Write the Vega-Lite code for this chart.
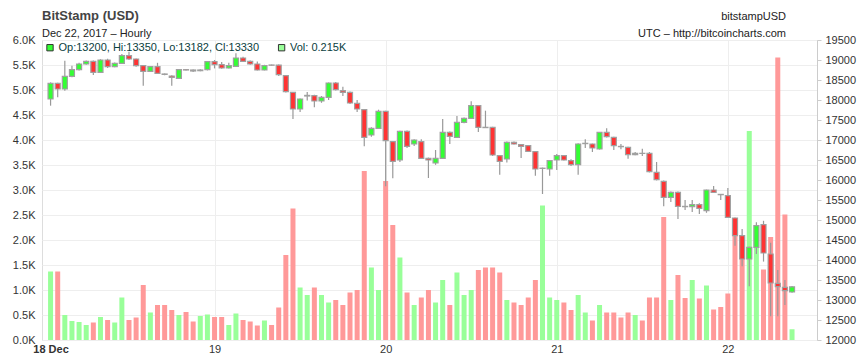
{
  "$schema": "https://vega.github.io/schema/vega-lite/v6.json",
  "autosize": "none",
  "width": 775,
  "height": 300,
  "padding": {"left": 42, "top": 40, "right": 43, "bottom": 19},
  "background": "white",
  "config": {
    "font": "Liberation Sans",
    "view": {"stroke": "#dddddd"},
    "axis": {"labelFont": "Liberation Sans", "labelFontSize": 11, "labelColor": "#333333", "gridColor": "#eeeeee"}
  },
  "datasets": {
    "candles": [
      {"h":1,"o":18025,"hi":18440,"lo":17858,"c":18417,"v":1.37},
      {"h":2,"o":18417,"hi":18430,"lo":18067,"c":18275,"v":1.37},
      {"h":3,"o":18275,"hi":18983,"lo":18233,"c":18592,"v":0.50},
      {"h":4,"o":18592,"hi":18858,"lo":18570,"c":18758,"v":0.38},
      {"h":5,"o":18758,"hi":18930,"lo":18740,"c":18900,"v":0.36},
      {"h":6,"o":18900,"hi":18990,"lo":18880,"c":18967,"v":0.30},
      {"h":7,"o":18967,"hi":18985,"lo":18625,"c":18692,"v":0.35},
      {"h":8,"o":18692,"hi":19020,"lo":18680,"c":19000,"v":0.46},
      {"h":9,"o":19000,"hi":19030,"lo":18800,"c":18833,"v":0.40},
      {"h":10,"o":18833,"hi":18940,"lo":18820,"c":18917,"v":0.35},
      {"h":11,"o":18917,"hi":19150,"lo":18900,"c":19108,"v":0.85},
      {"h":12,"o":19108,"hi":19208,"lo":19000,"c":19025,"v":0.40},
      {"h":13,"o":19025,"hi":19040,"lo":18830,"c":18858,"v":0.45},
      {"h":14,"o":18858,"hi":18870,"lo":18358,"c":18717,"v":1.10},
      {"h":15,"o":18717,"hi":18850,"lo":18700,"c":18833,"v":0.55},
      {"h":16,"o":18833,"hi":18930,"lo":18650,"c":18667,"v":0.70},
      {"h":17,"o":18650,"hi":18660,"lo":18620,"c":18640,"v":0.70},
      {"h":18,"o":18600,"hi":18620,"lo":18358,"c":18567,"v":0.60},
      {"h":19,"o":18542,"hi":18770,"lo":18530,"c":18758,"v":0.50},
      {"h":20,"o":18758,"hi":18775,"lo":18740,"c":18750,"v":0.56},
      {"h":21,"o":18750,"hi":18760,"lo":18700,"c":18725,"v":0.37},
      {"h":22,"o":18733,"hi":18770,"lo":18720,"c":18750,"v":0.48},
      {"h":23,"o":18758,"hi":18970,"lo":18740,"c":18958,"v":0.51},
      {"h":24,"o":18958,"hi":19000,"lo":18790,"c":18883,"v":0.46},
      {"h":25,"o":18883,"hi":18950,"lo":18780,"c":18800,"v":0.46},
      {"h":26,"o":18800,"hi":18930,"lo":18790,"c":18858,"v":0.30},
      {"h":27,"o":18842,"hi":19167,"lo":18830,"c":19050,"v":0.53},
      {"h":28,"o":19050,"hi":19080,"lo":18950,"c":18967,"v":0.40},
      {"h":29,"o":18967,"hi":18990,"lo":18880,"c":18900,"v":0.37},
      {"h":30,"o":18900,"hi":18960,"lo":18740,"c":18750,"v":0.29},
      {"h":31,"o":18750,"hi":18880,"lo":18740,"c":18858,"v":0.39},
      {"h":32,"o":18875,"hi":18885,"lo":18860,"c":18870,"v":0.30},
      {"h":33,"o":18870,"hi":18890,"lo":18600,"c":18633,"v":0.65},
      {"h":34,"o":18608,"hi":18620,"lo":18190,"c":18208,"v":1.70},
      {"h":35,"o":18192,"hi":18200,"lo":17525,"c":17775,"v":2.63},
      {"h":36,"o":17775,"hi":18040,"lo":17700,"c":18025,"v":1.05},
      {"h":37,"o":18100,"hi":18200,"lo":17990,"c":18115,"v":0.90},
      {"h":38,"o":18108,"hi":18130,"lo":17817,"c":17975,"v":1.05},
      {"h":39,"o":17975,"hi":18100,"lo":17930,"c":18067,"v":0.90},
      {"h":40,"o":18067,"hi":18440,"lo":18000,"c":18425,"v":0.75},
      {"h":41,"o":18425,"hi":18450,"lo":18240,"c":18258,"v":0.80},
      {"h":42,"o":18233,"hi":18330,"lo":18100,"c":18192,"v":0.70},
      {"h":43,"o":18192,"hi":18210,"lo":17900,"c":17925,"v":0.95},
      {"h":44,"o":17917,"hi":18000,"lo":17700,"c":17775,"v":1.00},
      {"h":45,"o":17758,"hi":17770,"lo":16842,"c":17067,"v":3.38},
      {"h":46,"o":17125,"hi":17320,"lo":17080,"c":17292,"v":1.45},
      {"h":47,"o":17292,"hi":17758,"lo":17280,"c":17717,"v":1.00},
      {"h":48,"o":17717,"hi":17730,"lo":15842,"c":16983,"v":3.18},
      {"h":49,"o":16958,"hi":16970,"lo":16042,"c":16467,"v":2.30},
      {"h":50,"o":16500,"hi":17230,"lo":16450,"c":17217,"v":1.65},
      {"h":51,"o":17217,"hi":17240,"lo":16800,"c":16842,"v":0.95},
      {"h":52,"o":16900,"hi":17020,"lo":16850,"c":17000,"v":0.70},
      {"h":53,"o":16958,"hi":17020,"lo":16530,"c":16542,"v":0.85},
      {"h":54,"o":16542,"hi":16560,"lo":16050,"c":16500,"v":1.00},
      {"h":55,"o":16425,"hi":16750,"lo":16380,"c":16542,"v":0.75},
      {"h":56,"o":16542,"hi":17525,"lo":16530,"c":17192,"v":1.20},
      {"h":57,"o":17192,"hi":17210,"lo":16900,"c":17092,"v":0.70},
      {"h":58,"o":17067,"hi":17600,"lo":17050,"c":17442,"v":1.35},
      {"h":59,"o":17442,"hi":17560,"lo":17420,"c":17542,"v":0.90},
      {"h":60,"o":17542,"hi":17967,"lo":17530,"c":17858,"v":1.00},
      {"h":61,"o":17858,"hi":17870,"lo":17200,"c":17317,"v":1.40},
      {"h":62,"o":17317,"hi":17733,"lo":17300,"c":17310,"v":1.45},
      {"h":63,"o":17317,"hi":17330,"lo":16600,"c":16625,"v":1.45},
      {"h":64,"o":16608,"hi":16625,"lo":16133,"c":16467,"v":1.35},
      {"h":65,"o":16525,"hi":16960,"lo":16440,"c":16942,"v":0.80},
      {"h":66,"o":16942,"hi":16960,"lo":16890,"c":16900,"v":0.75},
      {"h":67,"o":16883,"hi":16900,"lo":16550,"c":16842,"v":0.70},
      {"h":68,"o":16858,"hi":16870,"lo":16700,"c":16717,"v":0.85},
      {"h":69,"o":16708,"hi":16720,"lo":16108,"c":16275,"v":1.20},
      {"h":70,"o":16290,"hi":16310,"lo":15650,"c":16295,"v":2.69},
      {"h":71,"o":16275,"hi":16500,"lo":16108,"c":16483,"v":0.85},
      {"h":72,"o":16500,"hi":16650,"lo":16250,"c":16608,"v":0.80},
      {"h":73,"o":16608,"hi":16620,"lo":16490,"c":16500,"v":0.75},
      {"h":74,"o":16483,"hi":16520,"lo":16350,"c":16383,"v":0.60},
      {"h":75,"o":16383,"hi":16920,"lo":16133,"c":16900,"v":0.90},
      {"h":76,"o":16910,"hi":17020,"lo":16800,"c":16917,"v":0.55},
      {"h":77,"o":16900,"hi":16910,"lo":16700,"c":16800,"v":0.39},
      {"h":78,"o":16775,"hi":17200,"lo":16760,"c":17192,"v":0.70},
      {"h":79,"o":17192,"hi":17292,"lo":17060,"c":17083,"v":0.55},
      {"h":80,"o":17067,"hi":17080,"lo":16750,"c":16858,"v":0.55},
      {"h":81,"o":16840,"hi":16900,"lo":16770,"c":16833,"v":0.45},
      {"h":82,"o":16817,"hi":16830,"lo":16530,"c":16633,"v":0.55},
      {"h":83,"o":16633,"hi":16700,"lo":16620,"c":16667,"v":0.50},
      {"h":84,"o":16667,"hi":16780,"lo":16600,"c":16665,"v":0.39},
      {"h":85,"o":16667,"hi":16700,"lo":16190,"c":16208,"v":0.85},
      {"h":86,"o":16192,"hi":16450,"lo":15990,"c":16008,"v":0.85},
      {"h":87,"o":15967,"hi":15990,"lo":15342,"c":15567,"v":2.46},
      {"h":88,"o":15567,"hi":15710,"lo":15450,"c":15692,"v":0.80},
      {"h":89,"o":15692,"hi":15710,"lo":15025,"c":15342,"v":1.30},
      {"h":90,"o":15340,"hi":15500,"lo":15250,"c":15333,"v":0.84},
      {"h":91,"o":15333,"hi":15500,"lo":15200,"c":15383,"v":1.20},
      {"h":92,"o":15383,"hi":15420,"lo":15150,"c":15292,"v":0.83},
      {"h":93,"o":15233,"hi":15760,"lo":15180,"c":15750,"v":1.09},
      {"h":94,"o":15750,"hi":15850,"lo":15680,"c":15692,"v":0.61},
      {"h":95,"o":15640,"hi":15650,"lo":15500,"c":15633,"v":0.66},
      {"h":96,"o":15608,"hi":15800,"lo":15050,"c":15067,"v":0.93},
      {"h":97,"o":15050,"hi":15060,"lo":14358,"c":14608,"v":2.15},
      {"h":98,"o":14608,"hi":14775,"lo":13842,"c":14025,"v":2.10},
      {"h":99,"o":14025,"hi":14330,"lo":13342,"c":14317,"v":4.18},
      {"h":100,"o":14317,"hi":14942,"lo":14150,"c":14858,"v":2.25},
      {"h":101,"o":14883,"hi":14980,"lo":13960,"c":14175,"v":1.41},
      {"h":102,"o":14150,"hi":14430,"lo":12592,"c":13425,"v":2.06},
      {"h":103,"o":13417,"hi":13750,"lo":12592,"c":13333,"v":5.65},
      {"h":104,"o":13317,"hi":13500,"lo":12875,"c":13233,"v":2.51},
      {"h":105,"o":13200,"hi":13350,"lo":13182,"c":13330,"v":0.215}
    ],
    "header": [
      {"label": "Op:13200, Hi:13350, Lo:13182, Cl:13330", "vol": "Vol: 0.215K", "t1": "BitStamp (USD)", "t2": "Dec 22, 2017 \u2013 Hourly", "r1": "bitstampUSD", "r2": "UTC \u2013 http://bitcoincharts.com"}
    ]
  },
  "layer": [
    {
      "data": {"name": "candles"},
      "mark": {"type": "bar", "width": 5},
      "encoding": {
        "x": {
          "field": "h", "type": "quantitative",
          "scale": {"domain": [0.5, 107.8], "nice": false, "zero": false},
          "axis": {
            "title": null, "orient": "bottom", "values": [1, 24, 48, 72, 96],
            "labelExpr": "datum.value == 1 ? '18 Dec' : datum.value == 24 ? '19' : datum.value == 48 ? '20' : datum.value == 72 ? '21' : '22'",
            "labelFontWeight": {"condition": {"test": "datum.value == 1", "value": "bold"}, "value": "normal"},
            "gridOpacity": {"condition": {"test": "datum.value == 1", "value": 0}, "value": 1},
            "ticks": false, "domain": false, "labelPadding": 3, "labelFlush": false
          }
        },
        "y": {
          "field": "v", "type": "quantitative",
          "scale": {"domain": [0, 6], "nice": false},
          "axis": {"title": null, "orient": "left", "values": [0,0.5,1,1.5,2,2.5,3,3.5,4,4.5,5,5.5,6], "labelExpr": "format(datum.value, '.1f') + 'K'", "ticks": false, "domain": false, "labelPadding": 7, "grid": true}
        },
        "color": {"condition": {"test": "datum.c >= datum.o", "value": "#99ff99"}, "value": "#ff9999"}
      }
    },
    {
      "data": {"name": "candles"},
      "layer": [
        {
          "mark": {"type": "rule", "color": "#999999", "strokeWidth": 1.2},
          "encoding": {
            "x": {"field": "h", "type": "quantitative"},
            "y": {
              "field": "lo", "type": "quantitative",
              "scale": {"domain": [12000, 19500], "nice": false, "zero": false},
              "axis": {"title": null, "orient": "right", "values": [12000,12500,13000,13500,14000,14500,15000,15500,16000,16500,17000,17500,18000,18500,19000,19500], "format": "d", "grid": false, "ticks": true, "tickSize": 4, "tickColor": "#cccccc", "domain": true, "domainColor": "#cccccc", "labelPadding": 4}
            },
            "y2": {"field": "hi"}
          }
        },
        {
          "mark": {"type": "bar", "width": 5, "stroke": "#a0a0a0", "strokeWidth": 1.2},
          "encoding": {
            "x": {"field": "h", "type": "quantitative"},
            "y": {
              "field": "o", "type": "quantitative",
              "scale": {"domain": [12000, 19500], "nice": false, "zero": false},
              "axis": {"title": null, "orient": "right", "values": [12000,12500,13000,13500,14000,14500,15000,15500,16000,16500,17000,17500,18000,18500,19000,19500], "format": "d", "grid": false, "ticks": true, "tickSize": 4, "tickColor": "#cccccc", "domain": true, "domainColor": "#cccccc", "labelPadding": 4}
            },
            "y2": {"field": "c"},
            "color": {"condition": {"test": "datum.c >= datum.o", "value": "#33ff33"}, "value": "#ff3333"}
          }
        }
      ]
    },
    {
      "data": {"name": "header"},
      "layer": [
        {"mark": {"type": "point", "shape": "square", "filled": true, "size": 40, "fill": "#33ff33", "stroke": "#333333", "strokeWidth": 1, "opacity": 1, "x": 8, "y": 7.7}, "encoding": {}},
        {"mark": {"type": "text", "align": "left", "baseline": "middle", "fontSize": 11, "color": "#0a4040", "x": 16.5, "y": 8}, "encoding": {"text": {"field": "label"}}},
        {"mark": {"type": "point", "shape": "square", "filled": true, "size": 40, "fill": "#99ff99", "stroke": "#333333", "strokeWidth": 1, "opacity": 1, "x": 239.6, "y": 7.7}, "encoding": {}},
        {"mark": {"type": "text", "align": "left", "baseline": "middle", "fontSize": 11, "color": "#0a4040", "x": 248, "y": 8}, "encoding": {"text": {"field": "vol"}}},
        {"mark": {"type": "text", "align": "left", "baseline": "alphabetic", "fontSize": 13, "fontWeight": "bold", "color": "#444444", "x": 0, "y": -20}, "encoding": {"text": {"field": "t1"}}},
        {"mark": {"type": "text", "align": "left", "baseline": "alphabetic", "fontSize": 11, "color": "#222222", "x": 0, "y": -3.5}, "encoding": {"text": {"field": "t2"}}},
        {"mark": {"type": "text", "align": "right", "baseline": "alphabetic", "fontSize": 11, "color": "#222222", "x": 744, "y": -20.5}, "encoding": {"text": {"field": "r1"}}},
        {"mark": {"type": "text", "align": "right", "baseline": "alphabetic", "fontSize": 11, "color": "#222222", "x": 744, "y": -3.5}, "encoding": {"text": {"field": "r2"}}}
      ]
    }
  ],
  "resolve": {"scale": {"y": "independent"}, "axis": {"y": "independent"}}
}
